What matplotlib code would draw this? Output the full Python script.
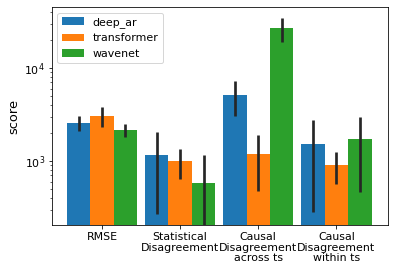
import numpy as np
import matplotlib
matplotlib.use("Agg")
import matplotlib.pyplot as plt

# category labels and per-model scores (mean and error)
categories = ["RMSE", "Statistical\nDisagreement", "Causal\nDisagreement\nacross ts",
              "Causal\nDisagreement\nwithin ts"]
models = ["deep_ar", "transformer", "wavenet"]
deep_ar = [2570, 1160, 5130, 1520]
transformer = [3050, 1000, 1190, 906]
wavenet = [2150, 580, 26900, 1720]
deep_ar_err = [450, 890, 2120, 1240]
transformer_err = [730, 360, 720, 340]
wavenet_err = [340, 580, 7800, 1260]
colors = ["#1f77b4", "#ff7f0e", "#2ca02c"]

fig = plt.figure(figsize=(393 / 72, 272 / 72), dpi=72)
ax = fig.add_axes([52 / 393, 1 - 225 / 272, 336 / 393, 218 / 272])

x = np.arange(len(categories))
width = 0.3
series = [deep_ar, transformer, wavenet]
errs = [deep_ar_err, transformer_err, wavenet_err]
for i, (vals, err) in enumerate(zip(series, errs)):
    pos = x + (i - 1) * width
    ax.bar(pos, vals, width, color=colors[i], label=models[i])
    ax.errorbar(pos, vals, yerr=err, fmt="none", ecolor="#262626", elinewidth=2.7, capsize=0)

ax.set_yscale("log")
ax.set_ylim(205, 45300)
ax.set_xlim(-0.64, 3.66)
ax.set_xticks(x)
ax.set_xticklabels(categories, fontsize=11, linespacing=1.08)
ax.tick_params(axis="y", labelsize=11)
ax.set_ylabel("score", fontsize=13)
ax.legend(loc="upper left", fontsize=11)

fig.savefig("out.png", dpi=72)
